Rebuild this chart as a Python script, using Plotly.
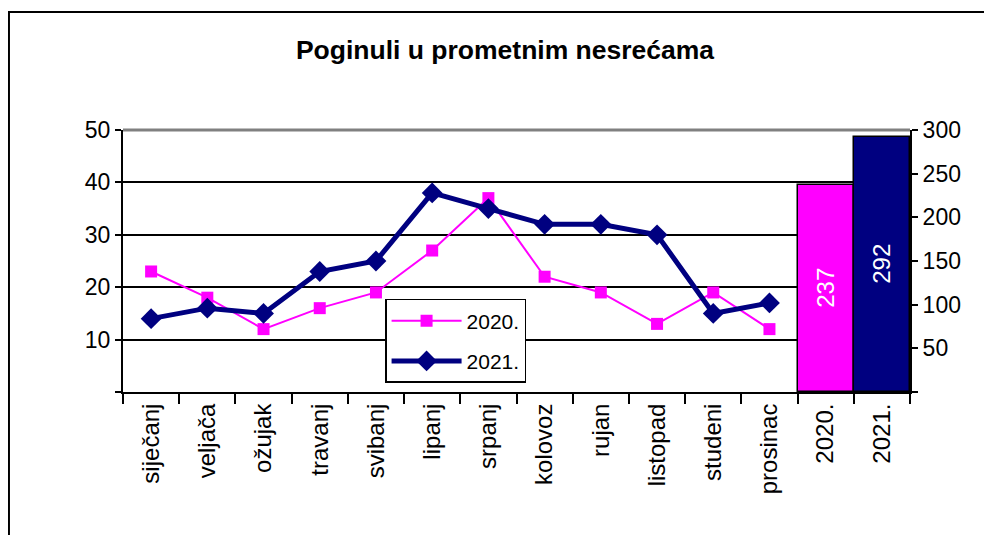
import plotly.graph_objects as go

months = ["siječanj", "veljača", "ožujak", "travanj", "svibanj", "lipanj",
          "srpanj", "kolovoz", "rujan", "listopad", "studeni", "prosinac"]
v2020 = [23, 18, 12, 16, 19, 27, 37, 22, 19, 13, 19, 12]
v2021 = [14, 16, 15, 23, 25, 38, 35, 32, 32, 30, 15, 17]
year_cats = ["2020.", "2021."]
year_totals = [237, 292]
year_colors = ["#FF00FF", "#000080"]
left_ticks = [0, 10, 20, 30, 40, 50]
right_ticks = [0, 50, 100, 150, 200, 250, 300]

FONT = "Liberation Sans, Arial, sans-serif"

fig = go.Figure()
fig.add_trace(go.Bar(
    x=year_cats, y=year_totals, yaxis="y2", width=1.0,
    marker=dict(color=year_colors, line=dict(color="black", width=1.5)),
    text=[str(v) for v in year_totals], textposition="inside",
    insidetextanchor="middle", textangle=-90,
    textfont=dict(color="white", size=24, family=FONT),
    showlegend=False, hoverinfo="skip"))
fig.add_trace(go.Scatter(
    x=months, y=v2020, name="2020.", mode="lines+markers", legendgroup="a",
    line=dict(color="#FF00FF", width=2),
    marker=dict(symbol="square", size=12, color="#FF00FF")))
fig.add_trace(go.Scatter(
    x=months, y=v2021, name="2021.", mode="lines+markers", legendgroup="b",
    line=dict(color="#000080", width=5),
    marker=dict(symbol="diamond", size=16, color="#000080")))

fig.update_layout(
    width=984, height=527,
    margin=dict(l=115, r=82, t=122, b=143),
    paper_bgcolor="white", plot_bgcolor="white",
    font=dict(family=FONT, color="black"),
    title=dict(text="<b>Poginuli u prometnim nesrećama</b>", xref="paper", x=0.4854,
               xanchor="center", y=0.920, yanchor="middle", font=dict(size=26.5, family=FONT)),
    bargap=0,
    xaxis=dict(type="category", categoryorder="array", categoryarray=months + year_cats,
               showline=True, linecolor="black", linewidth=2,
               ticks="outside", tickson="boundaries", ticklen=10, tickcolor="black", tickwidth=2,
               tickangle=-90, tickfont=dict(size=24), showgrid=False, range=[-0.5, 13.5]),
    yaxis=dict(range=[0, 50], tickvals=left_ticks,
               ticktext=["" if v == 0 else str(v) for v in left_ticks],
               showline=True, linecolor="black", linewidth=2,
               ticks="outside", ticklen=6, tickcolor="black", tickwidth=2,
               showgrid=True, gridcolor="black", gridwidth=1.5, zeroline=False,
               tickfont=dict(size=23)),
    yaxis2=dict(range=[0, 300], tickvals=right_ticks,
                ticktext=["" if v == 0 else str(v) for v in right_ticks],
                overlaying="y", side="right",
                showline=True, linecolor="black", linewidth=2,
                ticks="outside", ticklen=6, tickcolor="black", tickwidth=2,
                showgrid=False, zeroline=False, tickfont=dict(size=23)),
    legend=dict(x=0.333, y=0.355, xanchor="left", yanchor="top",
                bgcolor="white", bordercolor="black", borderwidth=1.5,
                font=dict(size=21), traceorder="grouped", tracegroupgap=10,
                itemwidth=70),
    shapes=[
        dict(type="line", xref="paper", yref="paper", x0=0, x1=1, y0=1, y1=1,
             line=dict(color="#808080", width=3), layer="above"),
        dict(type="rect", xref="paper", yref="paper", x0=-0.1449, x1=1.2, y0=-0.8, y1=1.4504,
             line=dict(color="black", width=2), layer="below"),
    ],
)

fig.write_html("out.html")
